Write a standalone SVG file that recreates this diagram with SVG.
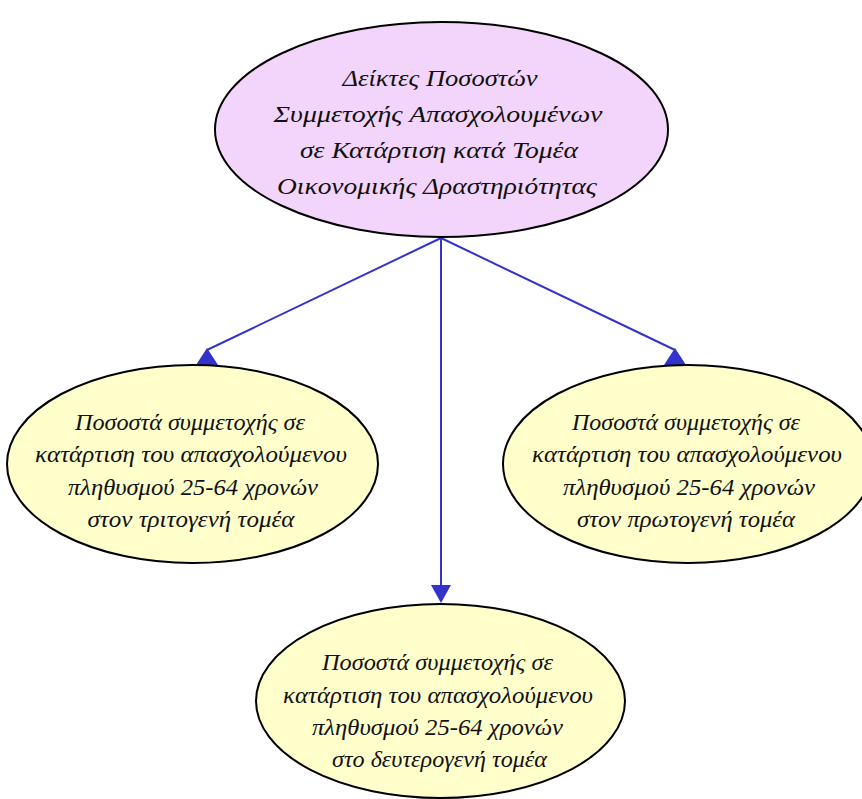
<svg xmlns="http://www.w3.org/2000/svg" width="862" height="799" viewBox="0 0 862 799">
<style>
.node ellipse{stroke:#000;stroke-width:2}
.root ellipse{fill:#f3d5fb}
.leaf ellipse{fill:#ffffcc}
.node text{font-family:"Liberation Serif","DejaVu Serif",serif;font-style:italic;font-size:23px;fill:#111;text-anchor:middle;lengthAdjust:spacingAndGlyphs}
.root text{font-size:24px}
.edge line{stroke:#3333cc;stroke-width:2}
.edge polygon{fill:#3333cc;stroke:none}
</style>
<rect width="862" height="799" fill="#fff"/>
<g id="connectors" class="edge">
<line x1="441" y1="238" x2="207" y2="350"/>
<polygon points="207,348 196,365 218,365"/>
<line x1="441" y1="238" x2="675" y2="350"/>
<polygon points="675,348 664,365 686,365"/>
<line x1="441" y1="238" x2="441" y2="587"/>
<polygon points="431,585 451,585 441,603"/>
</g>
<g id="root" class="node root">
<ellipse cx="441.5" cy="129.5" rx="226.5" ry="107.5"/>
<text x="440" y="86" textLength="195" lengthAdjust="spacingAndGlyphs">Δείκτες Ποσοστών</text>
<text x="438" y="122" textLength="329" lengthAdjust="spacingAndGlyphs">Συμμετοχής Απασχολουμένων</text>
<text x="439" y="158" textLength="278" lengthAdjust="spacingAndGlyphs">σε Κατάρτιση κατά Τομέα</text>
<text x="437" y="194" textLength="320" lengthAdjust="spacingAndGlyphs">Οικονομικής Δραστηριότητας</text>
</g>
<g id="tertiary" class="node leaf">
<ellipse cx="192.5" cy="464" rx="185.5" ry="99"/>
<text x="190" y="430" textLength="230" lengthAdjust="spacingAndGlyphs">Ποσοστά συμμετοχής σε</text>
<text x="191" y="462" textLength="312" lengthAdjust="spacingAndGlyphs">κατάρτιση του απασχολούμενου</text>
<text x="193" y="495" textLength="250" lengthAdjust="spacingAndGlyphs">πληθυσμού 25-64 χρονών</text>
<text x="191" y="527" textLength="207" lengthAdjust="spacingAndGlyphs">στον τριτογενή τομέα</text>
</g>
<g id="primary" class="node leaf">
<ellipse cx="688" cy="464" rx="185" ry="99"/>
<text x="686" y="430" textLength="228" lengthAdjust="spacingAndGlyphs">Ποσοστά συμμετοχής σε</text>
<text x="687" y="462" textLength="310" lengthAdjust="spacingAndGlyphs">κατάρτιση του απασχολούμενου</text>
<text x="689" y="495" textLength="252" lengthAdjust="spacingAndGlyphs">πληθυσμού 25-64 χρονών</text>
<text x="686" y="527" textLength="218" lengthAdjust="spacingAndGlyphs">στον πρωτογενή τομέα</text>
</g>
<g id="secondary" class="node leaf">
<ellipse cx="440.5" cy="701" rx="184.5" ry="97"/>
<text x="437.5" y="670" textLength="231" lengthAdjust="spacingAndGlyphs">Ποσοστά συμμετοχής σε</text>
<text x="438" y="703" textLength="310" lengthAdjust="spacingAndGlyphs">κατάρτιση του απασχολούμενου</text>
<text x="437.5" y="735" textLength="251" lengthAdjust="spacingAndGlyphs">πληθυσμού 25-64 χρονών</text>
<text x="439.5" y="767" textLength="215" lengthAdjust="spacingAndGlyphs">στο δευτερογενή τομέα</text>
</g>
</svg>
